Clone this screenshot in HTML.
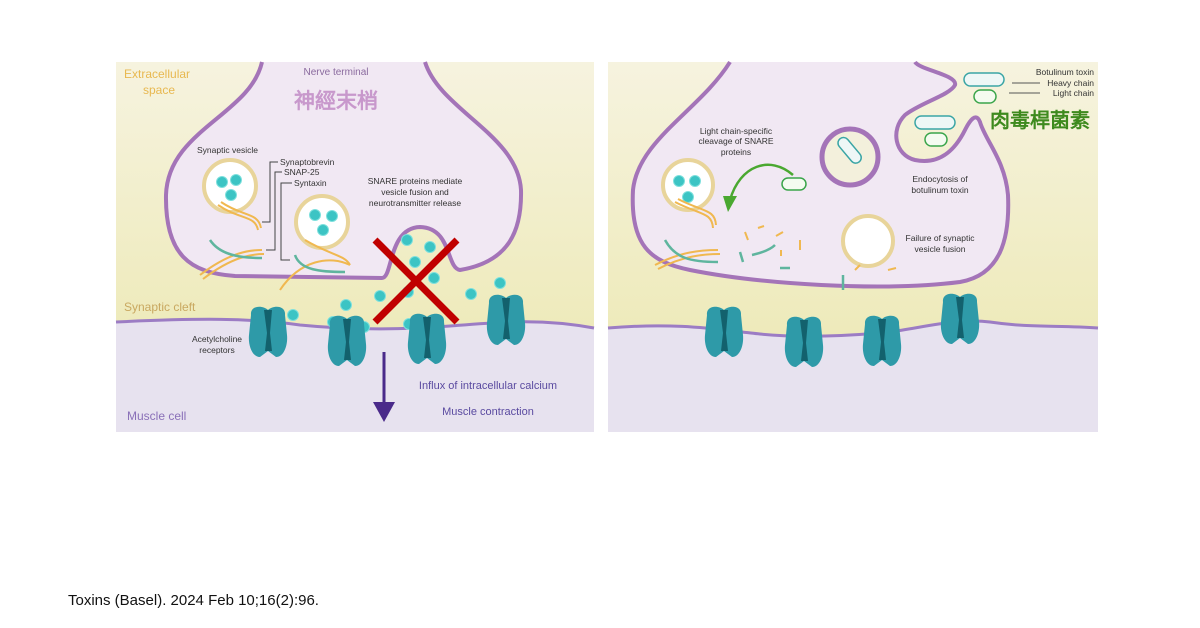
<!DOCTYPE html>
<html><head><meta charset="utf-8"><style>
html,body{margin:0;padding:0;background:#fff;width:1200px;height:628px;overflow:hidden}
svg{position:absolute;left:0;top:0}
text{font-family:"Liberation Sans",sans-serif}
</style></head><body>
<svg width="1200" height="628" viewBox="0 0 1200 628">
<defs>
<linearGradient id="yel" x1="0" y1="0" x2="0" y2="1">
<stop offset="0" stop-color="#f6f3df"/><stop offset="1" stop-color="#ebe7ad"/></linearGradient>
<g id="rec">
<path d="M-17,-18 C-18,-28 -5,-28 0,-23 C5,-28 18,-28 17,-18 L19,2 C20,12 16,24 8,24 L0,18 L-8,24 C-16,24 -20,12 -19,2 Z" fill="#2e9aa8"/>
<path d="M-4,-23 L4,-23 L2,0 L4,18 L-3,18 L-1,0 Z" fill="#13616d"/>
</g>
<g id="ach"><circle r="5.5" fill="#3cc4c4" stroke="#7ee0dd" stroke-width="1"/></g>
</defs>

<!-- LEFT PANEL -->
<rect x="116" y="62" width="478" height="370" fill="url(#yel)"/>
<path d="M116,322 C200,318 250,318 300,325 C350,330 400,330 450,326 C500,322 540,318 594,328 L594,432 L116,432 Z" fill="#e7e2ef"/>
<path d="M116,322 C200,318 250,318 300,325 C350,330 400,330 450,326 C500,322 540,318 594,328" fill="none" stroke="#9c7cc4" stroke-width="3"/>
<path d="M262,62 C250,115 168,130 166,195 C165,255 190,273 235,276 L382,278 C393,278 388,228 420,227 C452,228 446,268 460,270 C508,262 522,232 521,190 C518,135 440,110 425,62" fill="#f1e8f3" stroke="#a474b8" stroke-width="4"/>
<text x="336" y="75" font-size="10" fill="#8a6a9e" text-anchor="middle">Nerve terminal</text>
<text x="336" y="108" font-size="21" font-weight="bold" fill="#c898cc" text-anchor="middle" font-family="'Liberation Sans','Noto Sans CJK TC',sans-serif">神經末梢</text>
<text x="124" y="78" font-size="12" fill="#e8b850">Extracellular</text>
<text x="143" y="94" font-size="12" fill="#e8b850">space</text>
<text x="124" y="311" font-size="12" fill="#c9a860">Synaptic cleft</text>
<text x="127" y="420" font-size="12" fill="#8a70b8">Muscle cell</text>
<text x="197" y="153" font-size="8.5" fill="#333">Synaptic vesicle</text>
<text x="280" y="165" font-size="8.5" fill="#333">Synaptobrevin</text>
<text x="284" y="175" font-size="8.5" fill="#333">SNAP-25</text>
<text x="294" y="186" font-size="8.5" fill="#333">Syntaxin</text>
<path d="M278,162 L270,162 L270,222 L262,222 M282,172 L275,172 L275,250 L266,250 M292,183 L281,183 L281,260 L290,260" fill="none" stroke="#444" stroke-width="1"/>
<text x="415" y="184" font-size="8.5" fill="#333" text-anchor="middle">SNARE proteins mediate</text>
<text x="415" y="195" font-size="8.5" fill="#333" text-anchor="middle">vesicle fusion and</text>
<text x="415" y="206" font-size="8.5" fill="#333" text-anchor="middle">neurotransmitter release</text>
<circle cx="230" cy="186" r="26" fill="#fff" stroke="#e8d49a" stroke-width="4"/>
<circle cx="322" cy="222" r="26" fill="#fff" stroke="#e8d49a" stroke-width="4"/>
<g fill="none" stroke="#f0b850" stroke-width="2">
<path d="M218,205 C240,220 255,215 258,230 M221,202 C243,217 258,212 261,228"/>
<path d="M305,240 C330,255 345,255 350,265"/>
<path d="M200,275 C230,252 250,250 262,250 M203,279 C233,256 253,254 264,254"/>
<path d="M280,290 C300,260 330,255 350,265"/>
</g>
<g fill="none" stroke="#5fb59e" stroke-width="2.5">
<path d="M210,240 C220,255 240,258 262,258"/>
<path d="M295,255 C300,270 320,272 345,272"/>
</g>
<use href="#ach" x="222" y="182"/><use href="#ach" x="236" y="180"/><use href="#ach" x="231" y="195"/>
<use href="#ach" x="315" y="215"/><use href="#ach" x="332" y="216"/><use href="#ach" x="323" y="230"/>
<use href="#ach" x="407" y="240"/><use href="#ach" x="430" y="247"/><use href="#ach" x="415" y="262"/><use href="#ach" x="434" y="278"/>
<use href="#ach" x="380" y="296"/><use href="#ach" x="346" y="305"/><use href="#ach" x="293" y="315"/><use href="#ach" x="471" y="294"/><use href="#ach" x="500" y="283"/><use href="#ach" x="408" y="292"/><use href="#ach" x="333" y="322"/><use href="#ach" x="364" y="327"/><use href="#ach" x="409" y="324"/>
<use href="#rec" x="268" y="333"/><use href="#rec" x="347" y="342"/><use href="#rec" x="427" y="340"/><use href="#rec" x="506" y="321"/>
<text x="217" y="342" font-size="8.5" fill="#333" text-anchor="middle">Acetylcholine</text>
<text x="217" y="353" font-size="8.5" fill="#333" text-anchor="middle">receptors</text>
<line x1="384" y1="352" x2="384" y2="405" stroke="#4a2a8a" stroke-width="3"/>
<path d="M373,402 L395,402 L384,422 Z" fill="#4a2a8a"/>
<text x="488" y="389" font-size="11" fill="#5a4aa0" text-anchor="middle">Influx of intracellular calcium</text>
<text x="488" y="415" font-size="11" fill="#5a4aa0" text-anchor="middle">Muscle contraction</text>
<path d="M375,240 L457,322 M457,240 L375,322" stroke="#c00000" stroke-width="7"/>

<!-- RIGHT PANEL -->
<rect x="608" y="62" width="490" height="370" fill="url(#yel)"/>
<path d="M608,328 C680,322 720,330 760,334 C800,338 850,336 890,332 C930,326 960,318 990,322 C1030,328 1060,325 1098,328 L1098,432 L608,432 Z" fill="#e7e2ef"/>
<path d="M608,328 C680,322 720,330 760,334 C800,338 850,336 890,332 C930,326 960,318 990,322 C1030,328 1060,325 1098,328" fill="none" stroke="#9c7cc4" stroke-width="3"/>
<path d="M730,62 C700,110 638,140 633,190 C630,245 650,262 690,270 C760,284 880,292 960,282 C1000,275 1010,240 1008,195 C1005,160 985,140 980,122 C976,112 970,120 965,130 C955,150 940,165 915,160 C895,155 890,130 905,115 C920,103 950,95 955,85 C958,75 920,70 915,62" fill="#f1e8f3" stroke="#a474b8" stroke-width="4"/>
<circle cx="850" cy="157" r="28" fill="#f3f0dc" stroke="#a474b8" stroke-width="5"/>
<rect x="835" y="145" width="30" height="11" rx="5.5" fill="#eef7f6" stroke="#3aa5a5" stroke-width="1.5" transform="rotate(50 850 150)"/>
<text x="736" y="134" font-size="8.5" fill="#333" text-anchor="middle">Light chain-specific</text>
<text x="736" y="144" font-size="8.5" fill="#333" text-anchor="middle">cleavage of SNARE</text>
<text x="736" y="155" font-size="8.5" fill="#333" text-anchor="middle">proteins</text>
<path d="M793,175 C770,155 740,165 730,200" fill="none" stroke="#4aa830" stroke-width="2.5"/>
<path d="M723,196 L737,196 L728,212 Z" fill="#4aa830"/>
<rect x="782" y="178" width="24" height="12" rx="6" fill="#f4fbf0" stroke="#3aa54a" stroke-width="1.5"/>
<circle cx="688" cy="185" r="25" fill="#fff" stroke="#e8d49a" stroke-width="4"/>
<use href="#ach" x="679" y="181"/><use href="#ach" x="695" y="181"/><use href="#ach" x="688" y="197"/>
<circle cx="868" cy="241" r="25" fill="#fff" stroke="#e8d49a" stroke-width="4"/>
<g fill="none" stroke="#f0b850" stroke-width="2">
<path d="M675,202 C700,215 712,212 713,228 M678,199 C703,212 715,209 716,225"/>
<path d="M655,265 C680,252 700,250 718,250 M658,269 C683,256 703,254 720,254"/>
<path d="M745,232 L748,240 M758,228 L764,226 M776,236 L783,232 M781,250 L781,256 M800,240 L800,250 M860,265 L855,270 M888,270 L896,268"/>
</g>
<g fill="none" stroke="#5fb59e" stroke-width="2.5">
<path d="M665,240 C675,258 690,262 718,262"/>
<path d="M740,252 L743,262 M752,255 C765,252 772,248 775,245 M780,268 L790,268 M843,275 L843,290"/>
</g>
<text x="940" y="182" font-size="8.5" fill="#333" text-anchor="middle">Endocytosis of</text>
<text x="940" y="193" font-size="8.5" fill="#333" text-anchor="middle">botulinum toxin</text>
<text x="940" y="241" font-size="8.5" fill="#333" text-anchor="middle">Failure of synaptic</text>
<text x="940" y="252" font-size="8.5" fill="#333" text-anchor="middle">vesicle fusion</text>
<rect x="915" y="116" width="40" height="13" rx="6.5" fill="#eef7f6" stroke="#3aa5a5" stroke-width="1.5"/>
<rect x="925" y="133" width="22" height="13" rx="6.5" fill="#f4fbf0" stroke="#3aa54a" stroke-width="1.5"/>
<rect x="964" y="73" width="40" height="13" rx="6.5" fill="#eef7f6" stroke="#3aa5a5" stroke-width="1.5"/>
<rect x="974" y="90" width="22" height="13" rx="6.5" fill="#f4fbf0" stroke="#3aa54a" stroke-width="1.5"/>
<text x="1094" y="75" font-size="8.5" fill="#333" text-anchor="end">Botulinum toxin</text>
<text x="1094" y="86" font-size="8.5" fill="#333" text-anchor="end">Heavy chain</text>
<text x="1094" y="96" font-size="8.5" fill="#333" text-anchor="end">Light chain</text>
<path d="M1012,83 L1040,83 M1009,93 L1040,93" stroke="#555" stroke-width="1"/>
<text x="990" y="127" font-size="20" font-weight="bold" fill="#3e8a1e" font-family="'Liberation Sans','Noto Sans CJK TC',sans-serif">肉毒桿菌素</text>
<use href="#rec" x="724" y="333"/><use href="#rec" x="804" y="343"/><use href="#rec" x="882" y="342"/><use href="#rec" x="960" y="320"/>

<text x="68" y="605" font-size="15" fill="#111">Toxins (Basel). 2024 Feb 10;16(2):96.</text>
</svg>
</body></html>
